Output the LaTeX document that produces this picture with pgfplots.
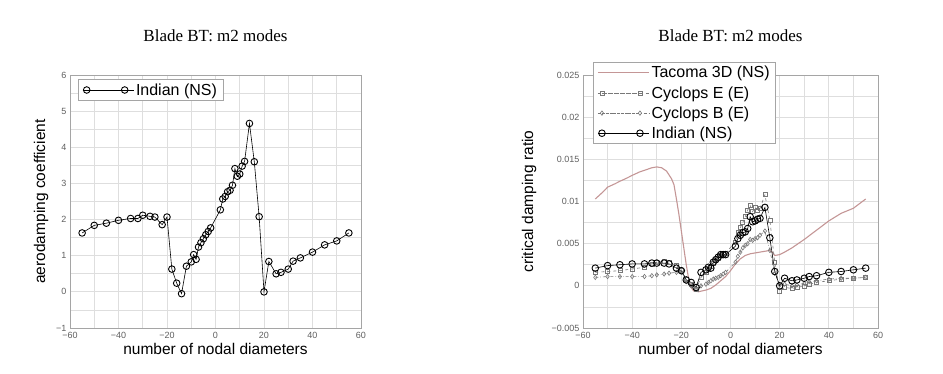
\documentclass[border=0pt]{standalone}
\usepackage{fontspec}
\setmainfont{Liberation Sans}
\newfontfamily\titlefont{Liberation Serif}
\usepackage{pgfplots}
\usepackage{pgfplotstable}
\pgfplotsset{compat=1.18}

\definecolor{gridgray}{RGB}{222,222,222}
\definecolor{framegray}{RGB}{165,165,165}
\definecolor{ticklab}{RGB}{95,95,95}
\definecolor{tacoma}{RGB}{196,150,150}
\definecolor{cyclops}{RGB}{120,120,120}

% aerodamping coefficient, Indian (NS)
\pgfplotstableread{
nd  aero
-55 1.63
-50 1.84
-45 1.90
-40 1.98
-35 2.03
-32 2.03
-30 2.12
-27 2.09
-25 2.07
-22 1.86
-20 2.07
-18 0.63
-16 0.24
-14 -0.05
-12 0.71
-10 0.83
-9  1.03
-8  0.90
-7  1.24
-6  1.36
-5  1.47
-4  1.58
-3  1.67
-2  1.77
2   2.27
3   2.57
4   2.64
5   2.77
6   2.81
7   2.95
8   3.41
9   3.20
10  3.26
11  3.48
12  3.61
14  4.66
16  3.60
18  2.08
20  0.00
22  0.84
25  0.50
27  0.54
30  0.63
32  0.85
35  0.94
40  1.10
45  1.30
50  1.41
55  1.63
}\aerotable

% critical damping ratio, Tacoma 3D (NS)
\pgfplotstableread{
nd  zeta
-55 0.0103
-52 0.0111
-50 0.0117
-47 0.0121
-45 0.0124
-42 0.0128
-40 0.0131
-37 0.0135
-35 0.0137
-32 0.0140
-30 0.0141
-28 0.0140
-26 0.0136
-24 0.0127
-23 0.0120
-22 0.0103
-21 0.0085
-20 0.0065
-19 0.0045
-18 0.0025
-17 0.0008
-16 -0.0002
-15 -0.0006
-13 -0.0007
-10 -0.0005
-8  -0.0003
-6  0.0001
-4  0.0006
-2  0.0011
0   0.0018
2   0.0026
4   0.0032
6   0.0036
8   0.0038
10  0.0039
12  0.0040
14  0.0041
16  0.0042
17  0.0040
18  0.0036
20  0.0037
22  0.0040
25  0.0045
28  0.0051
30  0.0055
35  0.0066
40  0.0077
45  0.0086
50  0.0092
55  0.0103
}\tacomatable

% critical damping ratio, Cyclops E (E), Cyclops B (E), Indian (NS)
\pgfplotstableread{
nd  cycE    cycB    indian
-55 0.0016  0.0010  0.0021
-50 0.0017  0.0011  0.0024
-45 0.0018  0.0011  0.0025
-40 0.0020  0.0011  0.0026
-35 0.0022  0.0011  0.0026
-32 0.0025  0.0012  0.0027
-30 0.0028  0.0013  0.0027
-27 0.0029  0.0014  0.0027
-25 0.0028  0.0015  0.0026
-22 0.0024  0.0016  0.0021
-20 0.0019  0.0016  0.0018
-18 0.0008  0.0005  0.0007
-16 0.0002  0.0000  0.0004
-14 -0.0004 -0.0004 -0.0002
-12 0.0010  0.0000  0.0016
-10 0.0016  0.0002  0.0019
-9  0.0020  0.0004  0.0022
-8  0.0023  0.0006  0.0021
-7  0.0027  0.0008  0.0028
-6  0.0030  0.0009  0.0031
-5  0.0033  0.0010  0.0034
-4  0.0036  0.0012  0.0037
-3  0.0037  0.0014  0.0037
-2  0.0039  0.0016  0.0037
2   0.0052  0.0028  0.0047
3   0.0063  0.0035  0.0056
4   0.0069  0.0040  0.0060
5   0.0075  0.0045  0.0063
6   0.0082  0.0048  0.0064
7   0.0090  0.0050  0.0068
8   0.0095  0.0055  0.0082
9   0.0088  0.0054  0.0076
10  0.0093  0.0056  0.0077
11  0.0090  0.0057  0.0079
12  0.0092  0.0060  0.0080
14  0.0108  0.0065  0.0093
16  0.0078  0.0042  0.0057
18  0.0028  0.0015  0.0017
20  -0.0006 0.0001  0.0000
22  -0.0002 0.0002  0.0009
25  -0.0003 0.0000  0.0006
27  -0.0002 0.0001  0.0007
30  0.0000  0.0003  0.0009
32  0.0002  0.0005  0.0011
35  0.0004  0.0006  0.0012
40  0.0006  0.0008  0.0016
45  0.0008  0.0009  0.0017
50  0.0009  0.0009  0.0019
55  0.0010  0.0010  0.0021
}\dampingtable

\pgfplotsset{
  bladeaxis/.style={
    scale only axis,
    anchor=south west,
    width=291pt, height=253pt,
    xmin=-60, xmax=60,
    xtick={-60,-40,-20,0,20,40,60},
    xticklabels={−60,−40,−20,0,20,40,60},
    minor x tick num=1,
    scaled y ticks=false,
    grid=both,
    major grid style={gridgray, line width=0.8pt},
    minor grid style={gridgray, line width=0.8pt},
    axis line style={framegray, line width=0.8pt},
    tick style={draw=none},
    tick label style={font=\fontsize{9}{10}\selectfont, text=ticklab},
    xticklabel style={yshift=-1pt},
    xlabel={number of nodal diameters},
    xlabel style={font=\fontsize{15.5}{17}\selectfont, at={(axis description cs:0.5,0)}, anchor=base, yshift=-26pt},
    ylabel style={font=\fontsize{15.5}{17}\selectfont, anchor=base},
    legend cell align=left,
    legend style={draw=framegray, line width=0.8pt, font=\fontsize{16}{18}\selectfont,
      inner xsep=4pt, inner ysep=2pt, row sep=3pt},
    legend image code/.code={
      \draw[#1] plot coordinates {(0pt,0pt) (38pt,0pt)};
      \path (-4pt,0pt) -- (47pt,0pt);
    },
  },
  indianstyle/.style={black, line width=0.6pt, mark=o, mark size=3.3pt,
    mark options={solid, fill=white, line width=0.9pt}},
}

\begin{document}
\begin{tikzpicture}
\useasboundingbox (0pt,0pt) rectangle (943pt,373pt);

% left: aerodamping coefficient
\begin{axis}[bladeaxis,
  at={(70pt,45pt)},
  ymin=-1, ymax=6,
  ytick={-1,0,...,6},
  yticklabels={−1,0,1,2,3,4,5,6},
  minor y tick num=1,
  ylabel={aerodamping coefficient},
  ylabel style={at={(axis description cs:-0.0859,0.5)}},
  legend style={at={(axis description cs:0.0275,0.984)}, anchor=north west},
]
\addplot[indianstyle] table[x=nd, y=aero] {\aerotable};
\addlegendentry{Indian (NS)}
\end{axis}
\node[font=\titlefont\fontsize{17}{19}\selectfont, anchor=base] at (215.5pt,331pt) {Blade BT: m2 modes};

% right: critical damping ratio
\begin{axis}[bladeaxis,
  at={(583pt,45pt)},
  width=295pt,
  ymin=-0.005, ymax=0.025,
  ytick={-0.005,0,0.005,0.01,0.015,0.02,0.025},
  yticklabels={−0.005,0,0.005,0.01,0.015,0.02,0.025},
  minor y tick num=1,
  ylabel={critical damping ratio},
  ylabel style={at={(axis description cs:-0.1695,0.5)}},
  legend style={at={(axis description cs:0.0339,1.0514)}, anchor=north west},
]
\addplot[tacoma, line width=1.1pt, no marks] table[x=nd, y=zeta] {\tacomatable};
\addlegendentry{Tacoma 3D (NS)}
\addplot[cyclops, line width=0.6pt, dashed, mark=square, mark size=2pt,
  mark options={solid, fill=white}] table[x=nd, y=cycE] {\dampingtable};
\addlegendentry{Cyclops E (E)}
\addplot[cyclops, line width=0.6pt, dash dot, mark=diamond, mark size=2.2pt,
  mark options={solid, fill=white}] table[x=nd, y=cycB] {\dampingtable};
\addlegendentry{Cyclops B (E)}
\addplot[indianstyle] table[x=nd, y=indian] {\dampingtable};
\addlegendentry{Indian (NS)}
\end{axis}
\node[font=\titlefont\fontsize{17}{19}\selectfont, anchor=base] at (730.5pt,331pt) {Blade BT: m2 modes};
\end{tikzpicture}
\end{document}
